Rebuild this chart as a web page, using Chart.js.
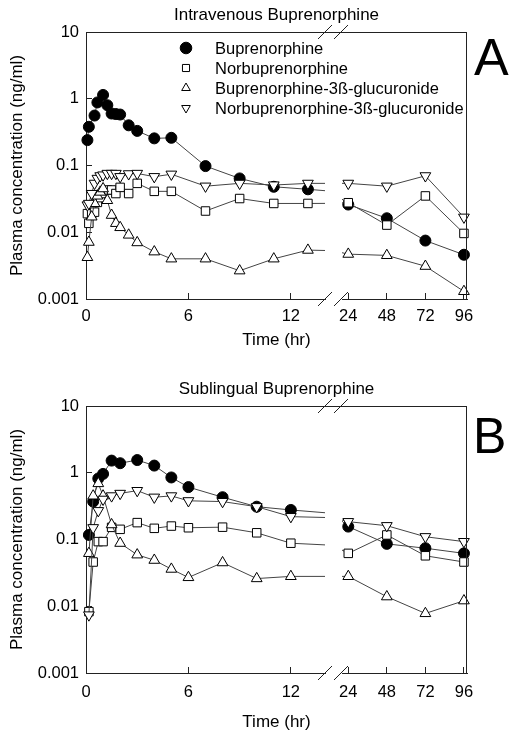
<!DOCTYPE html>
<html>
<head>
<meta charset="utf-8">
<style>
  body { margin: 0; background: #fff; }
  #page { position: relative; width: 518px; height: 739px; overflow: hidden; font-family: "Liberation Sans", Arial, sans-serif; }
  .panel { position: absolute; left: 0; width: 518px; }
  .letter { position: absolute; line-height: 1; color: #000; }
</style>
</head>
<body>
<div id="page">
  <div class="panel" style="top:0;height:374px"><canvas id="chartA"></canvas></div>
  <div class="panel" style="top:374px;height:365px"><canvas id="chartB"></canvas></div>
  <div class="letter" style="left:474px;top:31px;font-size:52px">A</div>
  <div class="letter" style="left:473px;top:411px;font-size:50px">B</div>
</div>
<script src="https://cdn.jsdelivr.net/npm/chart.js"></script>
<script>
// series names (shared by both panels)
const seriesNames = ['Buprenorphine', 'Norbuprenorphine', 'Buprenorphine-3ß-glucuronide', 'Norbuprenorphine-3ß-glucuronide'];

// Panel A - intravenous, time in hours
const timeA = [0.083, 0.167, 0.333, 0.5, 0.667, 0.833, 1, 1.25, 1.5, 1.75, 2, 2.5, 3, 4, 5, 7, 9, 11, 13, 24, 48, 72, 96];
const bupA = [0.24, 0.38, null, 0.56, 0.88, null, 1.14, 0.80, 0.60, 0.59, 0.58, 0.40, 0.33, 0.255, 0.26, 0.098, 0.064, 0.048, 0.044, 0.026, 0.0162, 0.0075, 0.0046];
const norbupA = [0.019, 0.0136, 0.019, 0.020, 0.028, 0.033, 0.038, 0.043, 0.043, 0.038, 0.047, 0.038, 0.054, 0.041, 0.041, 0.0208, 0.032, 0.027, 0.027, 0.0277, 0.0128, 0.035, 0.0096];
const bupGlucA = [0.0042, 0.0071, 0.017, 0.027, 0.035, 0.040, 0.045, 0.030, 0.018, 0.0136, 0.0118, 0.0091, 0.0070, 0.0051, 0.0040, 0.0040, 0.00265, 0.0040, 0.0054, 0.0047, 0.0045, 0.0031, 0.0013];
const norGlucA = [0.0256, 0.027, 0.038, 0.054, 0.064, 0.070, 0.072, 0.076, 0.076, 0.076, 0.068, 0.075, 0.076, 0.068, 0.074, 0.049, 0.054, 0.051, 0.054, 0.054, 0.049, 0.070, 0.0168];

// Panel B - sublingual
const timeB = [0.17, 0.42, 0.72, 1, 1.5, 2, 3, 4, 5, 6, 8, 10, 12, 24, 48, 72, 96];
const bupB = [0.117, 0.37, 0.82, 0.96, 1.52, 1.39, 1.55, 1.28, 0.85, 0.61, 0.43, 0.31, 0.277, 0.156, 0.086, 0.074, 0.062];
const norbupB = [0.0083, 0.046, 0.093, 0.093, 0.152, 0.142, 0.179, 0.147, 0.159, 0.150, 0.153, 0.126, 0.088, 0.062, 0.117, 0.057, 0.046];
const bupGlucB = [0.062, 0.45, 0.69, 0.45, 0.167, 0.088, 0.059, 0.049, 0.036, 0.027, 0.045, 0.026, 0.028, 0.028, 0.0139, 0.0078, 0.0121];
const norGlucB = [0.0074, 0.15, 0.27, 0.40, 0.45, 0.49, 0.54, 0.43, 0.45, 0.38, 0.37, 0.31, 0.22, 0.185, 0.161, 0.110, 0.093];

// tick labels
const xTicksLeft = [0, 6, 12];
const xTicksRight = [24, 48, 72, 96];
const yTicks = [0.001, 0.01, 0.1, 1, 10];

const FONT = '"Liberation Sans", Arial, sans-serif';
Chart.defaults.font.family = FONT;
Chart.defaults.color = '#000';

const markers = [
  {pointStyle: 'circle', radius: 5.5, rotation: 0, fill: '#000'},
  {pointStyle: 'rect', radius: 6, rotation: 0, fill: '#fff'},
  {pointStyle: 'triangle', radius: 6.2, rotation: 0, fill: '#fff'},
  {pointStyle: 'triangle', radius: 6.2, rotation: 180, fill: '#fff'}
];

function makeDatasets(series) {
  const out = [];
  series.forEach((values, i) => {
    ['x1', 'x2'].forEach(axis => {
      out.push({
        label: seriesNames[i],
        data: values,
        xAxisID: axis,
        yAxisID: 'y',
        borderColor: '#444',
        borderWidth: 1,
        pointStyle: markers[i].pointStyle,
        pointRadius: markers[i].radius,
        pointRotation: markers[i].rotation,
        pointBackgroundColor: markers[i].fill,
        pointBorderColor: '#000',
        pointBorderWidth: 1,
        spanGaps: true,
        tension: 0,
        fill: false,
        // each segment is cut at the axis break
        clip: axis === 'x1' ? {left: 8, top: 8, right: 0, bottom: 8} : {left: 0, top: 8, right: 8, bottom: 8},
        order: 3 - i
      });
    });
  });
  return out;
}

// top/right frame lines and the // break marks
const framePlugin = {
  id: 'frame',
  afterDraw(chart) {
    const {ctx, chartArea: a, scales} = chart;
    const cut1 = scales.x1.right;
    const cut2 = scales.x2.left - 1;
    ctx.save();
    ctx.strokeStyle = '#222';
    ctx.lineWidth = 1;
    ctx.beginPath();
    ctx.moveTo(a.left, a.top + 0.5);
    ctx.lineTo(a.right, a.top + 0.5);
    ctx.moveTo(a.right - 0.5, a.top);
    ctx.lineTo(a.right - 0.5, a.bottom);
    [a.top, a.bottom].forEach(y => {
      [cut1, cut2].forEach(cx => {
        ctx.moveTo(cx - 7, y + 7);
        ctx.lineTo(cx + 7, y - 7);
      });
    });
    ctx.stroke();
    ctx.restore();
  }
};

// legend drawn inside the plot area (panel A only)
const insideLegend = {
  id: 'insideLegend',
  afterDraw(chart) {
    const {ctx, chartArea: a} = chart;
    const sizes = [5.8, 5, 5, 5];
    ctx.save();
    seriesNames.forEach((name, i) => {
      const y = a.top + 16 + i * 20;
      const mx = a.left + 100;
      ctx.fillStyle = markers[i].fill;
      ctx.strokeStyle = '#000';
      ctx.lineWidth = 1;
      Chart.helpers.drawPoint(ctx, {pointStyle: markers[i].pointStyle, radius: sizes[i], rotation: markers[i].rotation, borderWidth: 1}, mx, y);
      ctx.fillStyle = '#000';
      ctx.font = '16.5px ' + FONT;
      ctx.textBaseline = 'middle';
      ctx.textAlign = 'left';
      ctx.fillText(name, a.left + 129, y + 1);
    });
    ctx.restore();
  }
};

function xAxis(weight, min, max, ticks, tickPad) {
  return {
    type: 'linear',
    position: 'bottom',
    stack: 'x',
    stackWeight: weight,
    min: min,
    max: max,
    afterFit: s => { s.height = 28; },
    afterBuildTicks: s => { s.ticks = ticks.map(v => ({value: v})); },
    grid: {drawOnChartArea: false, drawTicks: true, tickLength: -6, color: '#222'},
    border: {display: true, color: '#222', width: 1},
    ticks: {padding: tickPad, maxRotation: 0, autoSkip: false, font: {size: 16.5}, color: '#000', callback: v => String(v)}
  };
}

function makeChart(id, title, times, series, o) {
  return new Chart(document.getElementById(id), {
    type: 'line',
    data: {labels: times, datasets: makeDatasets(series)},
    options: {
      responsive: true,
      maintainAspectRatio: false,
      animation: false,
      layout: {padding: {left: 4, right: 51, top: 1.6, bottom: o.bottomPad}},
      plugins: {
        legend: {display: false},
        tooltip: {enabled: false},
        title: {display: true, text: title, position: 'top', fullSize: false, font: {size: 17, weight: 'normal'}, padding: {top: 4, bottom: 6}},
        subtitle: {display: true, text: 'Time (hr)', position: 'bottom', fullSize: false, font: {size: 17}, color: '#000', padding: {top: o.subPad, bottom: 0}}
      },
      scales: {
        x1: xAxis(239, 0, 14, xTicksLeft, o.tickPad),
        xgap: {
          type: 'linear', position: 'bottom', stack: 'x', stackWeight: 17,
          grid: {display: false}, border: {display: false}, ticks: {display: false},
          afterFit: s => { s.height = 28; }
        },
        x2: xAxis(125, 20.1, 97.9, xTicksRight, o.tickPad),
        y: {
          type: 'logarithmic',
          position: 'left',
          min: 0.001,
          max: 10,
          afterFit: s => { s.width = 82; },
          afterBuildTicks: s => { s.ticks = yTicks.map(v => ({value: v})); },
          grid: {drawOnChartArea: false, drawTicks: true, tickLength: -6, color: '#222'},
          border: {display: true, color: '#222', width: 1},
          ticks: {padding: 13, font: {size: 16.5}, color: '#000', callback: v => String(v)},
          title: {display: true, text: 'Plasma concentration (ng/ml)', font: {size: 17}, color: '#000', padding: {top: 3.3, bottom: 0}}
        }
      }
    },
    plugins: o.legend ? [framePlugin, insideLegend] : [framePlugin]
  });
}

makeChart('chartA', 'Intravenous Buprenorphine', timeA, [bupA, norbupA, bupGlucA, norGlucA],
  {tickPad: 14, subPad: 3, bottomPad: 23.6, legend: true});
makeChart('chartB', 'Sublingual Buprenorphine', timeB, [bupB, norbupB, bupGlucB, norGlucB],
  {tickPad: 16, subPad: 10.8, bottomPad: 6.8, legend: false});
</script>
</body>
</html>
